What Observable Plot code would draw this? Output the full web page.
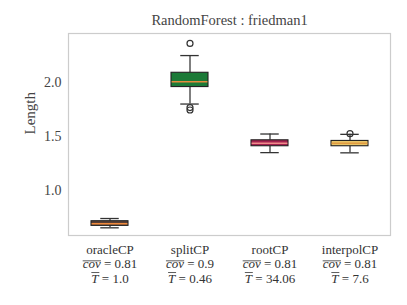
<!DOCTYPE html>
<html>
<head>
<meta charset="utf-8">
<script src="https://cdn.jsdelivr.net/npm/d3@7"></script>
<script src="https://cdn.jsdelivr.net/npm/@observablehq/plot@0.6"></script>
<style>
  html, body { margin: 0; padding: 0; background: #fff; }
  #chart svg, #chart svg text, #chart svg tspan { font-family: "Liberation Serif", "DejaVu Serif", serif !important; }
</style>
</head>
<body>
<div id="chart"></div>
<script>
const title = "RandomForest : friedman1";
const methods = ["oracleCP", "splitCP", "rootCP", "interpolCP"];
const covMeans = ["0.81", "0.9", "0.81", "0.81"];
const timeMeans = ["1.0", "0.46", "34.06", "7.6"];
const whiskerLow = [0.656, 1.80, 1.351, 1.349];
const q1 = [0.674, 1.957, 1.41, 1.41];
const median = [0.693, 2.006, 1.438, 1.438];
const q3 = [0.717, 2.089, 1.465, 1.459];
const whiskerHigh = [0.742, 2.248, 1.523, 1.52];
const outlierMethod = ["splitCP", "splitCP", "splitCP", "interpolCP"];
const outlierValue = [2.36, 1.767, 1.745, 1.526];
const boxFill = ["#5a4036", "#1b7a37", "#a3224f", "#e8c468"];
const medianColor = ["#ee8a3c", "#e58a3c", "#f08a8a", "#e09a40"];
const yTicks = [1.0, 1.5, 2.0];

const boxes = methods.map((m, i) => ({
  m, lo: whiskerLow[i], q1: q1[i], med: median[i], q3: q3[i], hi: whiskerHigh[i],
  fill: boxFill[i], mc: medianColor[i]
}));
const outliers = outlierMethod.map((m, i) => ({m, v: outlierValue[i]}));
const labelOf = Object.fromEntries(methods.map((m, i) => [m, `${m}\ncov = ${covMeans[i]}\nT = ${timeMeans[i]}`]));

const pad = 0.54;
const bw = 80.5 * (1 - pad);
const capInset = bw / 4;

const chart = Plot.plot({
  width: 407,
  height: 305,
  marginLeft: 68,
  marginRight: 17,
  marginTop: 33,
  marginBottom: 70,
  style: {fontSize: "12px", background: "#fff"},
  x: {domain: methods, paddingInner: pad, paddingOuter: pad / 2, align: 0.5, label: null},
  y: {domain: [0.585, 2.452], label: null},
  marks: [
    Plot.frame({stroke: "#cccccc", strokeWidth: 1.2}),
    Plot.ruleX(boxes, {x: "m", y1: "lo", y2: "q1", stroke: "#555", strokeWidth: 1.5}),
    Plot.ruleX(boxes, {x: "m", y1: "q3", y2: "hi", stroke: "#555", strokeWidth: 1.5}),
    Plot.tickY(boxes, {x: "m", y: "lo", stroke: "#333", strokeWidth: 1.3, insetLeft: capInset, insetRight: capInset}),
    Plot.tickY(boxes, {x: "m", y: "hi", stroke: "#333", strokeWidth: 1.3, insetLeft: capInset, insetRight: capInset}),
    Plot.barY(boxes, {x: "m", y1: "q1", y2: "q3", fill: "fill", stroke: "#222", strokeWidth: 1.1}),
    Plot.tickY(boxes, {x: "m", y: "med", stroke: "mc", strokeWidth: 1.5, insetLeft: 0.6, insetRight: 0.6}),
    Plot.dot(outliers, {x: "m", y: "v", r: 3, stroke: "#333", strokeWidth: 1.2, fill: "none"}),
    Plot.axisY({ticks: yTicks, tickFormat: d => d.toFixed(1), tickSize: 0, tickPadding: 7, fontSize: 14, fill: "#444", label: null}),
    Plot.axisX({tickSize: 0, tickPadding: 8, fontSize: 13, fill: "#333", lineHeight: 1.12, tickFormat: d => labelOf[d], label: null}),
    Plot.text(["Length"], {frameAnchor: "left", dx: -38, rotate: -90, fontSize: 15, fill: "#444"}),
    Plot.text([title], {frameAnchor: "top", dy: -19, fontSize: 14.5, fill: "#444"})
  ]
});

document.getElementById("chart").append(chart);

// Typeset the mean symbols: italic with an overbar drawn above the symbol
const bars = [];
d3.select(chart).selectAll("tspan").each(function() {
  const t = this.textContent;
  const mm = t.match(/^(cov|T)( = .*)$/);
  if (!mm) return;
  const el = d3.select(this);
  el.text(null);
  const sym = el.append("tspan").attr("font-style", "italic").text(mm[1]);
  el.append("tspan").text(mm[2]);
  bars.push({sym: sym.node(), text: this.parentNode, lower: mm[1] === "cov"});
});
for (const {sym, text, lower} of bars) {
  const b = sym.getBBox();
  const fs = parseFloat(getComputedStyle(text).fontSize) || 13;
  const baseline = b.y + b.height * 0.78;
  const yy = baseline - (lower ? 0.56 : 0.78) * fs;
  const line = document.createElementNS("http://www.w3.org/2000/svg", "line");
  line.setAttribute("x1", b.x);
  line.setAttribute("x2", b.x + b.width);
  line.setAttribute("y1", yy);
  line.setAttribute("y2", yy);
  line.setAttribute("stroke", "#333");
  line.setAttribute("stroke-width", "0.8");
  const tr = text.getAttribute("transform");
  if (tr) line.setAttribute("transform", tr);
  text.parentNode.appendChild(line);
}
</script>
</body>
</html>
